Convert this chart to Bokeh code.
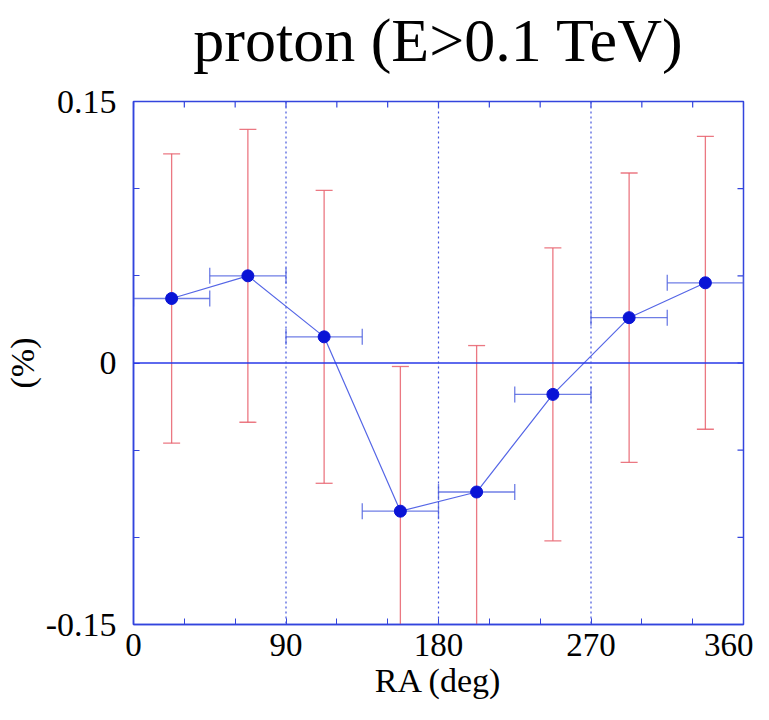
from bokeh.plotting import figure
from bokeh.models import (Range1d, FixedTicker, LinearAxis, Span, ColumnDataSource)
from bokeh.embed import file_html
from bokeh.resources import INLINE
import math

# ---- data ----
ra = [22.5, 67.5, 112.5, 157.5, 202.5, 247.5, 292.5, 337.5]
ra_halfwidth = [22.5, 22.5, 22.5, 22.5, 22.5, 22.5, 22.5, 22.5]
amp = [0.037, 0.050, 0.015, -0.085, -0.074, -0.018, 0.026, 0.046]
amp_err = [0.083, 0.084, 0.084, 0.083, 0.084, 0.084, 0.083, 0.084]
x_ticks = [0, 90, 180, 270, 360]
x_minor = [0, 30, 60, 90, 120, 150, 180, 210, 240, 270, 300, 330, 360]
y_ticks = [-0.15, 0, 0.15]
y_minor = [-0.15, -0.10, -0.05, 0, 0.05, 0.10, 0.15]
sector_lines = [90, 180, 270]
X_MIN, X_MAX = 0, 360
Y_MIN, Y_MAX = -0.15, 0.15
TITLE = "proton (E>0.1 TeV)"
X_LABEL = "RA (deg)"
Y_LABEL = "(%)"

FONT = "Liberation Serif"
AXIS_COL = "#3344dd"

src = ColumnDataSource(dict(
    x=ra, y=amp,
    x0=[a - w for a, w in zip(ra, ra_halfwidth)],
    x1=[a + w for a, w in zip(ra, ra_halfwidth)],
    y0=[a - e for a, e in zip(amp, amp_err)],
    y1=[a + e for a, e in zip(amp, amp_err)],
))

p = figure(width=753, height=704, output_backend="svg", toolbar_location=None,
           x_range=Range1d(X_MIN, X_MAX), y_range=Range1d(Y_MIN, Y_MAX),
           x_axis_location=None, y_axis_location=None,
           min_border_left=127, min_border_right=10, min_border_top=101, min_border_bottom=80)
p.grid.visible = False
p.outline_line_color = AXIS_COL
p.outline_line_width = 1.5
p.background_fill_color = "white"
p.border_fill_color = "white"


def style_axis(ax):
    ax.axis_line_color = AXIS_COL
    ax.axis_line_width = 1.5
    ax.major_tick_line_color = AXIS_COL
    ax.minor_tick_line_color = AXIS_COL
    ax.major_tick_in = 6
    ax.major_tick_out = 0
    ax.minor_tick_in = 6
    ax.minor_tick_out = 0
    ax.major_label_text_font = FONT
    ax.major_label_text_font_size = "34px"
    ax.major_label_text_color = "black"
    ax.major_label_text_line_height = 0.8
    ax.axis_label_text_font = FONT
    ax.axis_label_text_font_size = "34px"
    ax.axis_label_text_font_style = "normal"
    ax.axis_label_text_color = "black"
    ax.axis_label_text_line_height = 0.8


# title carried by an invisible top axis (keeps it close to the frame)
ta = LinearAxis(ticker=FixedTicker(ticks=[], minor_ticks=[]), axis_label=TITLE)
style_axis(ta)
ta.axis_line_color = None
ta.major_tick_line_color = None
ta.minor_tick_line_color = None
ta.axis_label_text_font_size = "62px"
ta.axis_label_standoff = 28
p.add_layout(ta, "above")

xb = LinearAxis(ticker=FixedTicker(ticks=x_ticks, minor_ticks=x_minor), axis_label=X_LABEL)
style_axis(xb)
xb.major_label_text_font_size = "33px"
xb.major_label_standoff = 9
xb.axis_label_standoff = 3
p.add_layout(xb, "below")

yl = LinearAxis(ticker=FixedTicker(ticks=y_ticks, minor_ticks=y_minor), axis_label=Y_LABEL)
style_axis(yl)
yl.major_label_standoff = 17
yl.axis_label_standoff = 2
yl.major_label_overrides = {-0.15: "-0.15", 0: "0", 0.15: "0.15"}
p.add_layout(yl, "left")

# inward ticks on top and right edges (half of each dash is clipped by the frame)
p.scatter(x=x_minor, y=[Y_MAX] * len(x_minor), marker="dash", angle=math.pi / 2, size=12,
          line_color=AXIS_COL, line_width=1.2)
p.scatter(x=[X_MAX] * len(y_minor), y=y_minor, marker="dash", size=12,
          line_color=AXIS_COL, line_width=1.2)

# reference lines
p.add_layout(Span(location=0, dimension="width", line_color="#2838e8", line_width=1.5))
for s in sector_lines:
    p.add_layout(Span(location=s, dimension="height", line_color="#4455dd",
                      line_width=1.2, line_dash="2 3"))

# vertical (red) error bars
p.segment(x0="x", y0="y0", x1="x", y1="y1", source=src, line_color="#e8606c",
          line_width=1.3, line_alpha=0.85)
p.scatter(x="x", y="y0", source=src, marker="dash", size=17, line_color="#e8606c",
          line_width=1.3, line_alpha=0.85)
p.scatter(x="x", y="y1", source=src, marker="dash", size=17, line_color="#e8606c",
          line_width=1.3, line_alpha=0.85)

# horizontal (blue) error bars
p.segment(x0="x0", y0="y", x1="x1", y1="y", source=src, line_color="#5566e0",
          line_width=1.3, line_alpha=0.85)
p.scatter(x="x0", y="y", source=src, marker="dash", size=16, angle=math.pi / 2,
          line_color="#5566e0", line_width=1.3, line_alpha=0.85)
p.scatter(x="x1", y="y", source=src, marker="dash", size=16, angle=math.pi / 2,
          line_color="#5566e0", line_width=1.3, line_alpha=0.85)

# connecting line + points
p.line(x="x", y="y", source=src, line_color="#5566e6", line_width=1.2)
p.scatter(x="x", y="y", source=src, marker="circle", size=12, fill_color="#0a14d6",
          line_color="#0a14d6")

open("out.html", "w").write(file_html(p, INLINE))
